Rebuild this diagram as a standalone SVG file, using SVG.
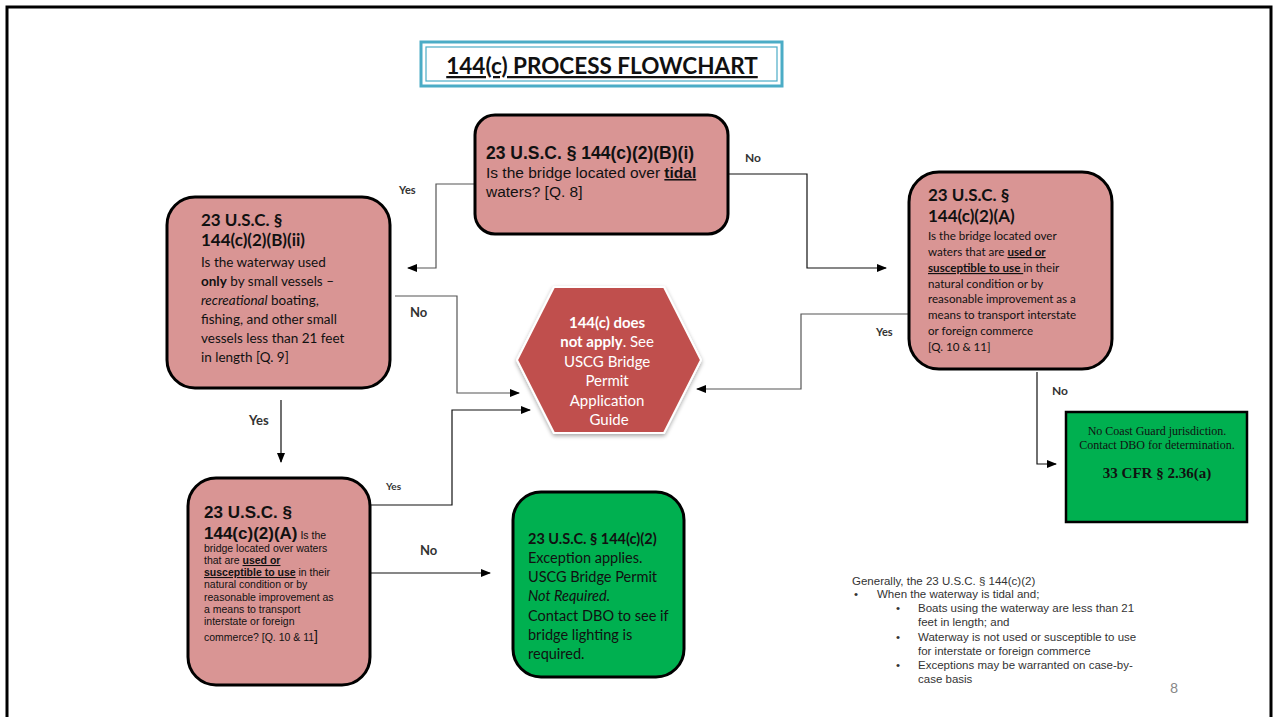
<svg xmlns="http://www.w3.org/2000/svg" width="1275" height="717" viewBox="0 0 1275 717">
<defs>
<marker id="ah" markerWidth="10" markerHeight="8" refX="9" refY="4" orient="auto" markerUnits="userSpaceOnUse">
<path d="M0,0 L10,4 L0,8 z" fill="#000"/>
</marker>
<filter id="glow" x="-20%" y="-20%" width="140%" height="140%">
<feGaussianBlur in="SourceAlpha" stdDeviation="2"/>
<feOffset dx="0" dy="2"/>
<feComponentTransfer><feFuncA type="linear" slope="0.35"/></feComponentTransfer>
<feMerge><feMergeNode/><feMergeNode in="SourceGraphic"/></feMerge>
</filter>
</defs>
<style>
.q{fill:#D99594;stroke:#000;stroke-width:3}
.g{fill:#00B050;stroke:#000;stroke-width:3}
.ar{font-family:"Liberation Sans",Arial,sans-serif;fill:#111}
.ca{font-family:Lato,"Open Sans",sans-serif;fill:#111}
.tm{font-family:"Liberation Serif","Times New Roman",serif;fill:#111}
.b{font-weight:bold}
.lbl{font-family:Lato,"Liberation Sans",sans-serif;font-weight:bold;fill:#333}
.c{fill:none;stroke:#555;stroke-width:1.2}
.cb{fill:none;stroke:#111;stroke-width:1.2}
.bul{font-family:"Liberation Sans",Arial,sans-serif;font-size:11.5px;fill:#333}
</style>
<rect x="0" y="0" width="1275" height="717" fill="#fff"/>
<path d="M7,717 L7,7 L1271,7 L1271,717" fill="none" stroke="#000" stroke-width="3"/>

<g id="title">
<rect x="421" y="42" width="361" height="44" fill="#fff" stroke="#4BACC6" stroke-width="3"/>
<rect x="426" y="47" width="351" height="34" fill="none" stroke="#4BACC6" stroke-width="1.2"/>
<text x="602" y="74" text-anchor="middle" class="ca b" font-size="22.5" text-decoration="underline">144(c) PROCESS FLOWCHART</text>
</g>

<g id="connectors">
<polyline class="c" points="474,184 436,184 436,268 408,268" marker-end="url(#ah)"/>
<polyline class="cb" points="729,174 807,174 807,268 886,268" marker-end="url(#ah)"/>
<polyline class="c" points="395,296 457,296 457,393 519,393" marker-end="url(#ah)"/>
<polyline class="cb" points="281,400 281,462" marker-end="url(#ah)"/>
<polyline class="cb" points="371,505 452,505 452,410 530,410" marker-end="url(#ah)"/>
<polyline class="cb" points="371,573 490,573" marker-end="url(#ah)"/>
<polyline class="c" points="908,314 801,314 801,389 697,389" marker-end="url(#ah)"/>
<polyline class="cb" points="1037,372 1037,464 1056,464" marker-end="url(#ah)"/>
<text x="399" y="194" class="lbl" font-size="11">Yes</text>
<text x="745" y="162" class="lbl" font-size="12">No</text>
<text x="410" y="317" class="lbl" font-size="13">No</text>
<text x="249" y="425" class="lbl" font-size="13">Yes</text>
<text x="386" y="490" class="lbl" font-size="10">Yes</text>
<text x="420" y="555" class="lbl" font-size="13">No</text>
<text x="876" y="336" class="lbl" font-size="11">Yes</text>
<text x="1052" y="395" class="lbl" font-size="12">No</text>
</g>

<g id="n-tidal">
<rect class="q" x="475" y="115" width="253" height="119" rx="20"/>
<text x="486" y="159" class="ar b" font-size="17.5">23 U.S.C. § 144(c)(2)(B)(i)</text>
<text x="486" y="178" class="ar" font-size="15.5">Is the bridge located over <tspan class="b" text-decoration="underline">tidal</tspan></text>
<text x="486" y="197" class="ar" font-size="15.5">waters? [Q. 8]</text>
</g>

<g id="n-small">
<rect class="q" x="167" y="197" width="223" height="191" rx="28"/>
<text x="201" y="226" class="ca b" font-size="17">23 U.S.C. §</text>
<text x="201" y="246" class="ca b" font-size="17">144(c)(2)(B)(ii)</text>
<text class="ca" font-size="13.5">
<tspan x="201" y="267">Is the waterway used</tspan>
<tspan x="201" y="286"><tspan class="b">only</tspan> by small vessels –</tspan>
<tspan x="201" y="305"><tspan font-style="italic">recreational</tspan> boating,</tspan>
<tspan x="201" y="324">fishing, and other small</tspan>
<tspan x="201" y="343">vessels less than 21 feet</tspan>
<tspan x="201" y="362">in length [Q. 9]</tspan>
</text>
</g>

<g id="n-commerce-right">
<rect class="q" x="909" y="172" width="203" height="197" rx="30"/>
<text x="928" y="201" class="ca b" font-size="17">23 U.S.C. §</text>
<text x="928" y="222" class="ca b" font-size="17">144(c)(2)(A)</text>
<text class="ca" font-size="11.6">
<tspan x="928" y="240">Is the bridge located over</tspan>
<tspan x="928" y="256">waters that are <tspan class="b" text-decoration="underline">used or</tspan></tspan>
<tspan x="928" y="272"><tspan class="b" text-decoration="underline">susceptible to use </tspan>in their</tspan>
<tspan x="928" y="288">natural condition or by</tspan>
<tspan x="928" y="303">reasonable improvement as a</tspan>
<tspan x="928" y="319">means to transport interstate</tspan>
<tspan x="928" y="335">or foreign commerce</tspan>
<tspan x="928" y="351">[Q. 10 &amp; 11]</tspan>
</text>
</g>

<g id="n-notapply">
<polygon points="517,360 554,287 664,287 701,360 664,433 554,433" fill="#C0504D" stroke="#fff" stroke-width="2" filter="url(#glow)"/>
<text text-anchor="middle" class="ca" font-size="15" style="fill:#fff">
<tspan x="609" y="328" class="b">144(c) does</tspan>
<tspan x="609" y="347"><tspan class="b">not apply</tspan>. See</tspan>
<tspan x="609" y="367">USCG Bridge</tspan>
<tspan x="609" y="386">Permit</tspan>
<tspan x="609" y="406">Application</tspan>
<tspan x="609" y="425">Guide</tspan>
</text>
</g>

<g id="n-commerce-left">
<rect class="q" x="188" y="478" width="182" height="207" rx="28"/>
<text x="204" y="518" class="ar b" font-size="17">23 U.S.C. §</text>
<text x="204" y="539" class="ar"><tspan class="b" font-size="17">144(c)(2)(A)</tspan><tspan font-size="10.5"> Is the</tspan></text>
<text class="ar" font-size="10.5">
<tspan x="204" y="552">bridge located over waters</tspan>
<tspan x="204" y="564">that are <tspan class="b" text-decoration="underline">used or</tspan></tspan>
<tspan x="204" y="576"><tspan class="b" text-decoration="underline">susceptible to use</tspan> in their</tspan>
<tspan x="204" y="588">natural condition or by</tspan>
<tspan x="204" y="601">reasonable improvement as</tspan>
<tspan x="204" y="613">a means to transport</tspan>
<tspan x="204" y="625">interstate or foreign</tspan>
<tspan x="204" y="641">commerce? [Q. 10 &amp; 11<tspan font-size="14">]</tspan></tspan>
</text>
</g>

<g id="n-exception">
<rect class="g" x="513" y="492" width="171" height="185" rx="28"/>
<text class="ca" font-size="14.5">
<tspan x="528" y="544" class="b">23 U.S.C. § 144(c)(2)</tspan>
<tspan x="528" y="563">Exception applies.</tspan>
<tspan x="528" y="582">USCG Bridge Permit</tspan>
<tspan x="528" y="601" font-style="italic">Not Required.</tspan>
<tspan x="528" y="621">Contact DBO to see if</tspan>
<tspan x="528" y="640">bridge lighting is</tspan>
<tspan x="528" y="659">required.</tspan>
</text>
</g>

<g id="n-nojurisdiction">
<rect x="1066" y="412" width="181" height="110" fill="#00B050" stroke="#000" stroke-width="2.5"/>
<text x="1157" y="435" text-anchor="middle" class="tm" font-size="12">No Coast Guard jurisdiction.</text>
<text x="1157" y="449" text-anchor="middle" class="tm" font-size="12">Contact DBO for determination.</text>
<text x="1157" y="478" text-anchor="middle" class="tm b" font-size="15">33 CFR § 2.36(a)</text>
</g>

<g id="note">
<text x="852" y="585" class="bul">Generally, the 23 U.S.C. § 144(c)(2)</text>
<text x="854" y="598" class="bul">•</text>
<text x="877" y="598" class="bul">When the waterway is tidal and;</text>
<text x="896" y="612" class="bul">•</text>
<text x="918" y="612" class="bul">Boats using the waterway  are less than 21</text>
<text x="918" y="626" class="bul">feet in length; and</text>
<text x="896" y="641" class="bul">•</text>
<text x="918" y="641" class="bul">Waterway is not used or susceptible to use</text>
<text x="918" y="655" class="bul">for interstate or foreign commerce</text>
<text x="896" y="669" class="bul">•</text>
<text x="918" y="669" class="bul">Exceptions may be warranted on case-by-</text>
<text x="918" y="683" class="bul">case basis</text>
<text x="1170" y="693" font-family="Lato,sans-serif" font-size="14" fill="#888">8</text>
</g>
</svg>
